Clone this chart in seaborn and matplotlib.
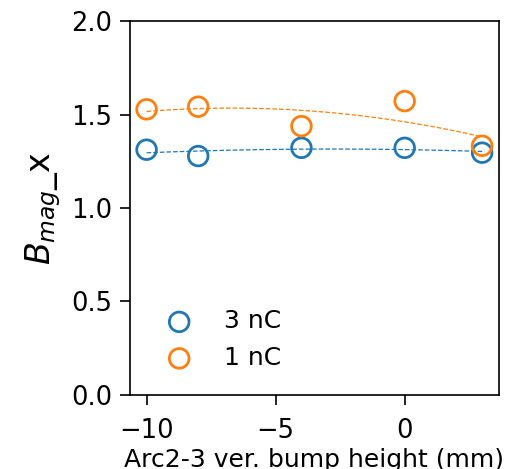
import numpy as np
import pandas as pd
import matplotlib
matplotlib.use("Agg")
import matplotlib.pyplot as plt
import seaborn as sns

sns.set_style("ticks")
plt.rcParams['font.family'] = ['DejaVu Sans']
plt.rcParams['text.color'] = 'black'
plt.rcParams['axes.labelcolor'] = 'black'
plt.rcParams['xtick.color'] = 'black'
plt.rcParams['ytick.color'] = 'black'

bump_height = [-10, -8, -4, 0, 3]
bmag_3nC = [1.312, 1.278, 1.322, 1.322, 1.296]
bmag_1nC = [1.528, 1.542, 1.438, 1.572, 1.333]
series_labels = ["3 nC", "1 nC"]
colors = ["#1f77b4", "#ff7f0e"]

fig = plt.figure(figsize=(5.07, 4.69), dpi=100)
ax = fig.add_axes([0.256, 0.158, 0.728, 0.797])

for vals, lab, c in zip([bmag_3nC, bmag_1nC], series_labels, colors):
    df = pd.DataFrame({"x": bump_height, "y": vals})
    sns.scatterplot(data=df, x="x", y="y", ax=ax, s=200, facecolor="none",
                    edgecolor=c, linewidth=2.0, label=lab, zorder=3)
    coef = np.polyfit(bump_height, vals, 2)
    xf = np.linspace(min(bump_height), max(bump_height), 100)
    fit = pd.DataFrame({"x": xf, "y": np.polyval(coef, xf)})
    sns.lineplot(data=fit, x="x", y="y", ax=ax, color=c, linestyle="--",
                 linewidth=0.9, legend=False, zorder=2)

ax.set_ylim(0, 2.0)
ax.set_yticks([0.0, 0.5, 1.0, 1.5, 2.0])
ax.set_xticks([-10, -5, 0])
ax.tick_params(labelsize=18.5, length=7.5, width=1.2, colors="black")
ax.tick_params(axis="y", pad=5)
ax.tick_params(axis="x", pad=9)
for s in ax.spines.values():
    s.set_linewidth(1.2)
    s.set_color("black")
ax.set_xlabel("Arc2-3 ver. bump height (mm)", fontsize=18, labelpad=3)
ax.set_ylabel(r"$B_{mag}$_x", fontsize=24, labelpad=6)
ax.legend(loc="lower left", frameon=False, fontsize=18, handletextpad=0.8,
          borderaxespad=0.0, bbox_to_anchor=(0.039, 0.04), labelspacing=0.5)

fig.savefig("out.png", dpi=100)
